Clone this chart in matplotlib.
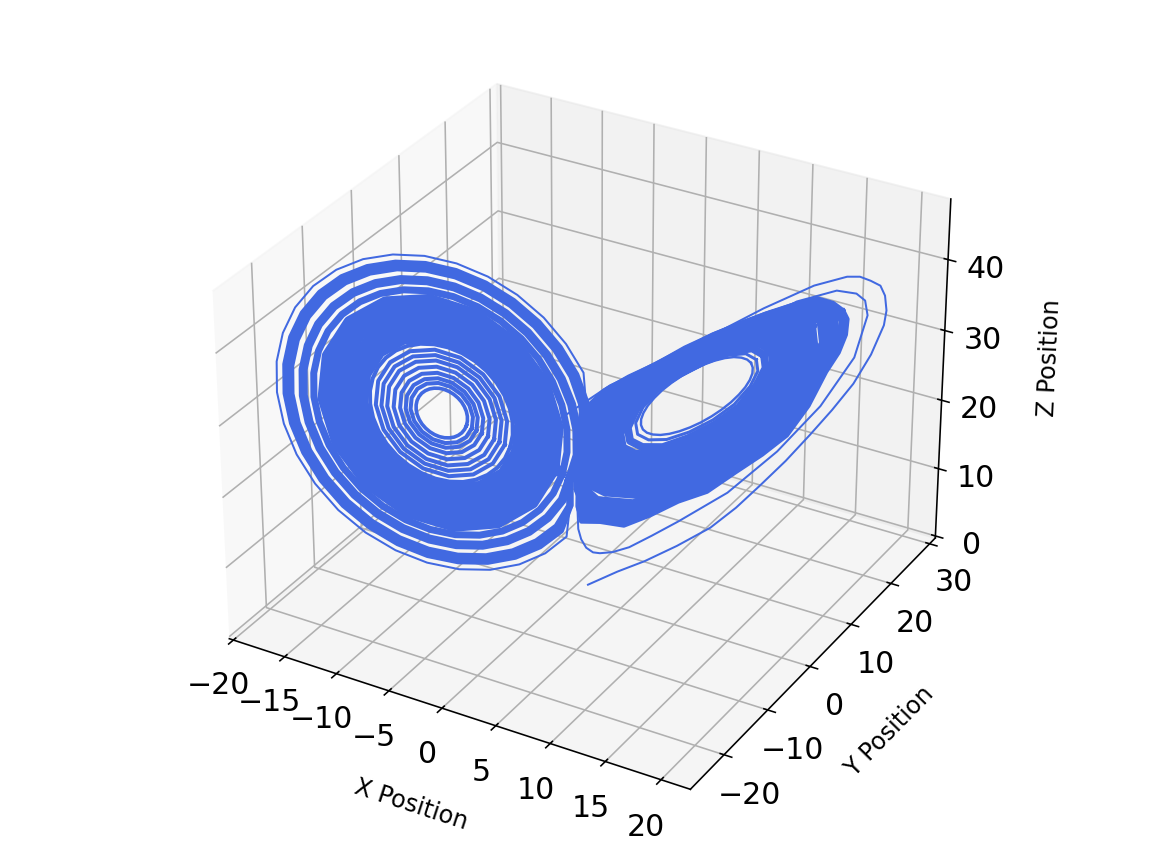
import matplotlib
matplotlib.use('Agg')
import matplotlib.pyplot as plt

left_x = [
    [-6.6, -6.63, -6.72, -6.87, -7.07, -7.31, -7.59, -7.89, -8.2, -8.51, -8.81, -9.09, -9.33, -9.53, -9.68, -9.77, -9.8, -9.77, -9.68, -9.53, -9.33, -9.09, -8.81, -8.51, -8.2, -7.89, -7.59, -7.31, -7.07, -6.87, -6.72, -6.63],
    [-6.25, -6.4, -6.82, -7.45, -8.2, -8.95, -9.58, -10, -10.15, -10, -9.58, -8.95, -8.2, -7.45, -6.82, -6.4],
    [-5.95, -6.12, -6.61, -7.34, -8.2, -9.06, -9.79, -10.28, -10.45, -10.28, -9.79, -9.06, -8.2, -7.34, -6.61, -6.12],
    [-5.6, -5.8, -6.36, -7.2, -8.2, -9.2, -10.04, -10.6, -10.8, -10.6, -10.04, -9.2, -8.2, -7.2, -6.36, -5.8],
    [-5.2, -5.43, -6.08, -7.05, -8.2, -9.35, -10.32, -10.97, -11.2, -10.97, -10.32, -9.35, -8.2, -7.05, -6.08, -5.43],
    [-4.8, -5.06, -5.8, -6.9, -8.2, -9.5, -10.6, -11.34, -11.6, -11.34, -10.6, -9.5, -8.2, -6.9, -5.8, -5.06],
    [-4.45, -4.73, -5.55, -6.76, -8.2, -9.64, -10.85, -11.67, -11.95, -11.67, -10.85, -9.64, -8.2, -6.76, -5.55, -4.73],
    [-4.1, -4.41, -5.3, -6.63, -8.2, -9.77, -11.1, -11.99, -12.3, -11.99, -11.1, -9.77, -8.2, -6.63, -5.3, -4.41],
    [-3.75, -3.83, -4.09, -4.5, -5.05, -5.73, -6.5, -7.33, -8.2, -9.07, -9.9, -10.67, -11.35, -11.9, -12.31, -12.57, -12.65, -12.57, -12.31, -11.9, -11.35, -10.67, -9.9, -9.07, -8.2, -7.33, -6.5, -5.73, -5.05, -4.5, -4.09, -3.83],
    [-3.2, -3.58, -4.66, -6.28, -8.2, -10.12, -11.74, -12.82, -13.2, -12.82, -11.74, -10.12, -8.2, -6.28, -4.66, -3.58],
    [-2.45, -2.89, -4.13, -6, -8.2, -10.4, -12.27, -13.51, -13.95, -13.51, -12.27, -10.4, -8.2, -6, -4.13, -2.89],
    [-1.7, -2.19, -3.6, -5.71, -8.2, -10.69, -12.8, -14.21, -14.7, -14.21, -12.8, -10.69, -8.2, -5.71, -3.6, -2.19],
    [-.95, -1.5, -3.07, -5.42, -8.2, -10.98, -13.33, -14.9, -15.45, -14.9, -13.33, -10.98, -8.2, -5.42, -3.07, -1.5],
    [-.3, -.45, -.9, -1.64, -2.61, -3.81, -5.17, -6.66, -8.2, -9.74, -11.23, -12.59, -13.79, -14.76, -15.5, -15.95, -16.1, -15.95, -15.5, -14.76, -13.79, -12.59, -11.23, -9.74, -8.2, -6.66, -5.17, -3.81, -2.61, -1.64, -.9, -.45],
    [.2, .19, -.3, -1.1, -2.16, -3.45, -4.93, -6.53, -8.2, -9.87, -11.47, -12.95, -14.24, -15.3, -16.1, -16.59, -16.75, -16.59, -16.1, -15.3, -14.24, -12.95, -11.47, -9.87, -8.2, -6.53, -4.93, -3.45, -2.16, -1.1, -.3, .19],
    [.2, .73, .39, -.47, -1.62, -3.03, -4.64, -6.39, -8.2, -10.01, -11.76, -13.37, -14.78, -15.93, -16.79, -17.32, -17.5, -17.32, -16.79, -15.93, -14.78, -13.37, -11.76, -10.01, -8.2, -6.39, -4.64, -3.03, -1.62, -.55, .1, .33],
    [.2, .73, .67, -.22, -1.41, -2.86, -4.52, -6.33, -8.2, -10.07, -11.88, -13.54, -14.99, -16.18, -17.07, -17.62, -17.8, -17.62, -17.07, -16.18, -14.99, -13.54, -11.88, -10.07, -8.2, -6.33, -4.52, -2.86, -1.41, -.3, .1, .33],
    [.2, .73, 1.1, .23, -1.02, -2.56, -4.31, -6.22, -8.2, -10.18, -12.09, -13.84, -15.38, -16.63, -17.58, -18.16, -18.35, -18.16, -17.58, -16.63, -15.38, -13.84, -12.09, -10.18, -8.2, -6.22, -4.31, -2.56, -1.02, -.3, .1, .33],
]
left_y = [
    [-6.9, -7.24, -7.63, -8.06, -8.5, -8.94, -9.37, -9.76, -10.1, -10.38, -10.59, -10.72, -10.76, -10.72, -10.59, -10.38, -10.1, -9.76, -9.37, -8.94, -8.5, -8.06, -7.63, -7.24, -6.9, -6.62, -6.41, -6.28, -6.24, -6.28, -6.41, -6.62],
    [-6.55, -7.45, -8.5, -9.55, -10.45, -11.05, -11.26, -11.05, -10.45, -9.55, -8.5, -7.45, -6.55, -5.95, -5.74, -5.95],
    [-6.25, -7.28, -8.5, -9.72, -10.75, -11.44, -11.68, -11.44, -10.75, -9.72, -8.5, -7.28, -6.25, -5.56, -5.32, -5.56],
    [-5.9, -7.09, -8.5, -9.91, -11.1, -11.9, -12.18, -11.9, -11.1, -9.91, -8.5, -7.09, -5.9, -5.1, -4.82, -5.1],
    [-5.5, -6.88, -8.5, -10.12, -11.5, -12.42, -12.74, -12.42, -11.5, -10.12, -8.5, -6.88, -5.5, -4.58, -4.26, -4.58],
    [-5.1, -6.66, -8.5, -10.34, -11.9, -12.94, -13.31, -12.94, -11.9, -10.34, -8.5, -6.66, -5.1, -4.06, -3.69, -4.06],
    [-4.75, -6.47, -8.5, -10.53, -12.25, -13.4, -13.8, -13.4, -12.25, -10.53, -8.5, -6.47, -4.75, -3.6, -3.2, -3.6],
    [-4.4, -6.28, -8.5, -10.72, -12.6, -13.86, -14.3, -13.86, -12.6, -10.72, -8.5, -6.28, -4.4, -3.14, -2.7, -3.14],
    [-4.05, -5, -6.09, -7.28, -8.5, -9.72, -10.91, -12, -12.95, -13.73, -14.32, -14.67, -14.79, -14.67, -14.32, -13.73, -12.95, -12, -10.91, -9.72, -8.5, -7.28, -6.09, -5, -4.05, -3.27, -2.68, -2.33, -2.21, -2.33, -2.68, -3.27],
    [-3.5, -5.79, -8.5, -11.21, -13.5, -15.04, -15.57, -15.04, -13.5, -11.21, -8.5, -5.79, -3.5, -1.96, -1.43, -1.96],
    [-2.75, -5.39, -8.5, -11.61, -14.25, -16.02, -16.63, -16.02, -14.25, -11.61, -8.5, -5.39, -2.75, -.98, -.37, -.98],
    [-2, -4.98, -8.5, -12.02, -15, -17, -17.69, -17, -15, -12.02, -8.5, -4.98, -2, 0, .69, 0],
    [-1.25, -4.58, -8.5, -12.42, -15.75, -17.98, -18.75, -17.98, -15.75, -12.42, -8.5, -4.58, -1.25, .98, 1.75, .98],
    [-.6, -2.29, -4.23, -6.33, -8.5, -10.67, -12.77, -14.71, -16.4, -17.79, -18.83, -19.46, -19.67, -19.46, -18.83, -17.79, -16.4, -14.71, -12.77, -10.67, -8.5, -6.33, -4.23, -2.29, -.6, .79, 1.83, 2.46, 2.67, 2.46, 1.83, .79],
    [-.1, -1.78, -3.87, -6.15, -8.5, -10.85, -13.13, -15.22, -17.05, -18.55, -19.67, -20.36, -20.59, -20.36, -19.67, -18.55, -17.05, -15.22, -13.13, -10.85, -8.5, -6.15, -3.87, -1.78, .05, 1.55, 2.67, 3.36, 3.59, 3.36, 2.67, 1.55],
    [-.1, -1.35, -3.47, -5.94, -8.5, -11.06, -13.53, -15.81, -17.8, -19.44, -20.66, -21.4, -21.65, -21.4, -20.66, -19.44, -17.8, -15.81, -13.53, -11.06, -8.5, -5.94, -3.47, -1.19, .8, 2.44, 3.66, 4.4, 4.65, 4.26, 3.3, 1.73],
    [-.1, -1.35, -3.31, -5.86, -8.5, -11.14, -13.69, -16.05, -18.1, -19.79, -21.05, -21.82, -22.07, -21.82, -21.05, -19.79, -18.1, -16.05, -13.69, -11.14, -8.5, -5.86, -3.31, -.95, 1.1, 2.79, 4.05, 4.82, 5.07, 4.68, 3.3, 1.73],
    [-.1, -1.35, -3, -5.71, -8.5, -11.29, -13.99, -16.48, -18.65, -20.44, -21.77, -22.58, -22.85, -22.58, -21.77, -20.44, -18.65, -16.48, -13.99, -11.29, -8.5, -5.71, -3, -.52, 1.65, 3.44, 4.77, 5.58, 5.85, 4.68, 3.3, 1.73],
]
left_z = [
    [24.76, 24.38, 24.08, 23.89, 23.8, 23.83, 23.96, 24.2, 24.54, 24.96, 25.45, 25.98, 26.54, 27.11, 27.66, 28.18, 28.64, 29.02, 29.32, 29.51, 29.6, 29.57, 29.44, 29.2, 28.86, 28.44, 27.95, 27.42, 26.86, 26.29, 25.74, 25.22],
    [24.34, 23.51, 23.17, 23.37, 24.07, 25.17, 26.51, 27.87, 29.06, 29.89, 30.23, 30.03, 29.33, 28.23, 26.89, 25.53],
    [23.98, 23.02, 22.63, 22.85, 23.66, 24.94, 26.48, 28.05, 29.42, 30.38, 30.77, 30.55, 29.74, 28.46, 26.92, 25.35],
    [23.55, 22.45, 21.99, 22.25, 23.19, 24.66, 26.44, 28.26, 29.85, 30.95, 31.41, 31.15, 30.21, 28.74, 26.96, 25.14],
    [23.07, 21.79, 21.27, 21.57, 22.65, 24.35, 26.4, 28.5, 30.33, 31.61, 32.13, 31.83, 30.75, 29.05, 27, 24.9],
    [22.59, 21.14, 20.55, 20.89, 22.11, 24.03, 26.36, 28.74, 30.81, 32.26, 32.85, 32.51, 31.29, 29.37, 27.04, 24.66],
    [22.16, 20.57, 19.91, 20.29, 21.64, 23.76, 26.33, 28.95, 31.24, 32.83, 33.49, 33.11, 31.76, 29.64, 27.07, 24.45],
    [21.74, 20, 19.28, 19.69, 21.16, 23.49, 26.29, 29.16, 31.66, 33.4, 34.12, 33.71, 32.24, 29.91, 27.11, 24.24],
    [21.32, 20.25, 19.42, 18.88, 18.65, 18.71, 19.09, 19.76, 20.69, 21.86, 23.21, 24.7, 26.26, 27.83, 29.37, 30.81, 32.08, 33.15, 33.98, 34.52, 34.75, 34.69, 34.31, 33.64, 32.71, 31.54, 30.19, 28.7, 27.14, 25.57, 24.03, 22.59],
    [20.65, 18.52, 17.65, 18.15, 19.95, 22.78, 26.2, 29.7, 32.75, 34.88, 35.75, 35.25, 33.45, 30.62, 27.2, 23.7],
    [19.74, 17.3, 16.29, 16.87, 18.94, 22.19, 26.13, 30.16, 33.66, 36.1, 37.11, 36.53, 34.46, 31.21, 27.27, 23.24],
    [18.83, 16.07, 14.93, 15.58, 17.92, 21.6, 26.06, 30.61, 34.57, 37.33, 38.47, 37.82, 35.48, 31.8, 27.34, 22.79],
    [17.93, 14.85, 13.58, 14.3, 16.91, 21.02, 25.98, 31.06, 35.47, 38.55, 39.82, 39.1, 36.49, 32.38, 27.42, 22.34],
    [17.14, 15.24, 13.78, 12.82, 12.4, 12.52, 13.19, 14.38, 16.03, 18.1, 20.51, 23.15, 25.92, 28.71, 31.45, 34, 36.26, 38.16, 39.62, 40.58, 41, 40.88, 40.21, 39.02, 37.37, 35.3, 32.89, 30.25, 27.48, 24.69, 21.95, 19.4],
    [16.5, 14.3, 12.72, 11.68, 11.22, 11.35, 12.08, 13.36, 15.16, 17.4, 20, 22.86, 25.85, 28.88, 31.84, 34.6, 37.05, 39.1, 40.68, 41.72, 42.18, 42.05, 41.32, 40.04, 38.24, 36, 33.4, 30.54, 27.55, 24.52, 21.56, 18.8],
    [16.5, 13.5, 11.49, 10.36, 9.87, 10.01, 10.8, 12.19, 14.14, 16.58, 19.41, 22.52, 25.78, 29.07, 32.29, 35.29, 37.95, 40.19, 41.91, 43.04, 43.53, 43.39, 42.6, 41.21, 39.26, 36.82, 33.99, 30.88, 27.62, 24.35, 22, 18.66],
    [16.5, 13.5, 11, 9.83, 9.32, 9.47, 10.28, 11.72, 13.74, 16.26, 19.17, 22.39, 25.75, 29.15, 32.47, 35.57, 38.32, 40.62, 42.4, 43.57, 44.08, 43.93, 43.12, 41.68, 39.66, 37.14, 34.23, 31.01, 27.65, 24.4, 22, 18.66],
    [16.5, 13.5, 10.1, 8.87, 8.33, 8.48, 9.34, 10.87, 13, 15.66, 18.74, 22.14, 25.7, 29.29, 32.8, 36.08, 38.98, 41.42, 43.3, 44.53, 45.07, 44.92, 44.06, 42.53, 40.4, 37.74, 34.66, 31.26, 27.7, 24.4, 22, 18.66],
]
left_lw = [1.8, 2, 2, 2, 2, 2, 2, 2, 2, 7, 7, 7, 7, 3.5, 4.5, 3.5, 3.5, 1]

# right wing loops, same order
right_x = [
    [12.05, 11.98, 11.78, 11.45, 11.01, 10.47, 9.86, 9.19, 8.5, 7.81, 7.14, 6.53, 5.99, 5.55, 5.22, 5.02, 4.95, 5.02, 5.22, 5.55, 5.99, 6.53, 7.14, 7.81, 8.5, 9.19, 9.86, 10.47, 11.01, 11.45, 11.78, 11.98],
    [12.4, 12.1, 11.26, 9.99, 8.5, 7.01, 5.74, 4.9, 4.6, 4.9, 5.74, 7.01, 8.5, 9.99, 11.26, 12.1],
    [12.9, 12.57, 11.61, 10.19, 8.5, 6.81, 5.39, 4.43, 4.1, 4.43, 5.39, 6.81, 8.5, 10.19, 11.61, 12.57],
    [13.5, 13.12, 12.04, 10.42, 8.5, 6.58, 4.96, 3.88, 3.5, 3.88, 4.96, 6.58, 8.5, 10.42, 12.04, 13.12],
    [14.1, 13.67, 12.46, 10.64, 8.5, 6.36, 4.54, 3.33, 2.9, 3.33, 4.54, 6.36, 8.5, 10.64, 12.46, 13.67],
    [14.7, 14.23, 12.88, 10.87, 8.5, 6.13, 4.12, 2.77, 2.3, 2.77, 4.12, 6.13, 8.5, 10.87, 12.88, 14.23],
    [15.3, 14.78, 13.31, 11.1, 8.5, 5.9, 3.69, 2.22, 1.7, 2.22, 3.69, 5.9, 8.5, 11.1, 13.31, 14.78],
    [15.9, 15.34, 13.73, 11.33, 8.5, 5.67, 3.27, 1.66, 1.1, 1.66, 3.27, 5.67, 8.5, 11.33, 13.73, 15.34],
    [16.7, 16.08, 14.3, 11.64, 8.5, 5.36, 2.7, 1.57, .75, .92, 2.7, 5.36, 8.5, 11.64, 14.3, 16.08],
    [17.3, 16.63, 14.72, 11.87, 8.5, 5.13, 2.49, 1.57, .75, .37, 2.28, 5.13, 8.5, 11.87, 14.72, 16.63],
    [17.75, 17.57, 17.05, 16.19, 15.04, 13.64, 12.04, 10.3, 8.5, 6.7, 4.96, 3.36, 2.49, 2.1, 1.57, 1.1, .75, .2, -.05, .81, 1.96, 3.36, 4.96, 6.7, 8.5, 10.3, 12.04, 13.64, 15.04, 16.19, 17.05, 17.57],
    [18.05, 17.87, 17.32, 16.44, 15.25, 13.81, 12.16, 10.36, 8.5, 6.64, 4.84, 3.19, 2.49, 2.1, 1.57, 1.1, .75, .1, -.2, .56, 1.75, 3.19, 4.84, 6.64, 8.5, 10.36, 12.16, 13.81, 15.25, 16.44, 17.32, 17.87],
]
right_y = [
    [12.05, 11.29, 10.42, 9.48, 8.5, 7.52, 6.58, 5.71, 4.95, 4.33, 3.86, 3.58, 3.48, 3.58, 3.86, 4.33, 4.95, 5.71, 6.58, 7.52, 8.5, 9.48, 10.42, 11.29, 12.05, 12.67, 13.14, 13.42, 13.52, 13.42, 13.14, 12.67],
    [12.4, 10.61, 8.5, 6.39, 4.6, 3.4, 2.99, 3.4, 4.6, 6.39, 8.5, 10.61, 12.4, 13.6, 14.01, 13.6],
    [12.9, 10.88, 8.5, 6.12, 4.1, 2.75, 2.28, 2.75, 4.1, 6.12, 8.5, 10.88, 12.9, 14.25, 14.72, 14.25],
    [13.5, 11.21, 8.5, 5.79, 3.5, 1.96, 1.43, 1.96, 3.5, 5.79, 8.5, 11.21, 13.5, 15.04, 15.57, 15.04],
    [14.1, 11.53, 8.5, 5.47, 2.9, 1.18, .58, 1.18, 2.9, 5.47, 8.5, 11.53, 14.1, 15.82, 16.42, 15.82],
    [14.7, 11.85, 8.5, 5.15, 2.3, .4, -.27, .4, 2.3, 5.15, 8.5, 11.85, 14.7, 16.6, 17.27, 16.6],
    [15.3, 12.18, 8.5, 4.82, 1.7, -.39, -1.12, -.39, 1.7, 4.82, 8.5, 12.18, 15.3, 17.39, 18.12, 17.39],
    [15.9, 12.5, 8.5, 4.5, 1.1, -1.17, -1.96, -1.17, 1.1, 4.5, 8.5, 12.5, 15.9, 18.17, 18.96, 18.17],
    [16.7, 12.94, 8.5, 4.06, .3, -2.22, -3.09, -1.3, .75, 4.06, 8.5, 12.94, 16.7, 19.22, 20.09, 19.22],
    [17.3, 13.26, 8.5, 3.74, -.3, -3, -3.52, -1.3, .75, 3.74, 8.5, 13.26, 17.3, 20, 20.94, 20],
    [17.75, 15.77, 13.5, 11.04, 8.5, 5.96, 3.5, 1.23, -.75, -2.38, -3.59, -4.33, -3.52, -2.5, -1.3, -.3, .75, 2, 3.5, 5.96, 8.5, 11.04, 13.5, 15.77, 17.75, 19.38, 20.59, 21.33, 21.58, 21.33, 20.59, 19.38],
    [18.05, 16.01, 13.67, 11.13, 8.5, 5.87, 3.33, .99, -1.05, -2.73, -3.98, -4.75, -3.52, -2.5, -1.3, -.3, .75, 2, 3.33, 5.87, 8.5, 11.13, 13.67, 16.01, 18.05, 19.73, 20.98, 21.75, 22, 21.75, 20.98, 19.73],
]
right_z = [
    [31.3, 32.15, 32.8, 33.24, 33.43, 33.37, 33.07, 32.54, 31.79, 30.86, 29.78, 28.59, 27.35, 26.09, 24.87, 23.72, 22.7, 21.85, 21.2, 20.76, 20.57, 20.63, 20.93, 21.46, 22.21, 23.14, 24.22, 25.41, 26.65, 27.91, 29.13, 30.28],
    [31.72, 33.38, 33.93, 33.45, 32.05, 29.95, 27.28, 24.48, 22.06, 20.4, 19.65, 20.11, 21.51, 23.72, 26.61, 29.34],
    [32.32, 34.19, 34.66, 34.02, 32.44, 30.2, 27.19, 23.96, 21.18, 19.31, 18.39, 18.98, 20.56, 23.05, 26.56, 29.64],
    [33.05, 35.18, 35.55, 34.71, 32.91, 30.5, 27.08, 23.33, 20.11, 17.98, 16.86, 17.61, 19.41, 22.24, 26.5, 30],
    [33.78, 36.16, 36.43, 35.4, 33.38, 30.8, 26.96, 22.69, 19.04, 16.66, 15.33, 16.24, 18.26, 21.43, 26.45, 30.37],
    [34.5, 37.14, 37.31, 36.09, 33.86, 31.1, 26.85, 22.06, 17.99, 15.35, 13.82, 14.89, 17.12, 20.63, 26.39, 30.73],
    [35.23, 38.12, 38.2, 36.78, 34.33, 31.4, 26.74, 21.43, 16.92, 14.03, 12.28, 13.52, 15.97, 19.82, 26.33, 31.09],
    [35.95, 39.1, 39.08, 37.47, 34.81, 31.71, 26.64, 20.81, 15.87, 12.72, 10.78, 12.17, 14.83, 19.02, 26.27, 31.45],
    [36.92, 39.7, 39.9, 38.39, 35.44, 32.11, 26.49, 20.39, 14.99, 10.96, 8.74, 10.35, 13.3, 17.94, 26.19, 31.93],
    [37.65, 40.5, 40.6, 39.08, 35.91, 32.41, 26.36, 20.11, 14.65, 9.64, 7.21, 8.98, 12.15, 17.13, 26.13, 32.29],
    [37.7, 39.6, 41.1, 41.4, 41.2, 40.6, 39.6, 38.21, 36.27, 34.64, 32.64, 29.54, 26.2, 23.2, 19.95, 17, 14.4, 11.2, 8.66, 7.53, 6.07, 6.7, 7.96, 8.87, 11.29, 13.72, 16.53, 20.95, 26.08, 29.36, 32.56, 35.55],
    [38, 40, 41.6, 41.9, 41.6, 41, 39.94, 38.51, 36.5, 34.85, 32.79, 29.59, 26.1, 23.2, 19.8, 16.9, 14.2, 10.8, 8, 6.83, 5.3, 5.96, 7.28, 8.2, 10.72, 13.22, 16.12, 20.7, 26.05, 29.44, 32.74, 35.82],
]
right_lw = [1.2, 1.5, 4, 6, 6, 6, 6, 6, 6, 6, 4, 2]

# the two thin strands outside the right wing
start_x = [1.25, 3.15, 4.92, 7, 9.15, 10.79, 12.3, 13.94, 15.46, 16.85, 18.17, 19.24, 20, 20.13, 20, 19.68, 19.05, 18.36, 17.54, 15.46, 12.3, 8.71, 5.99, 2.65, -.32]
start_y = [1.45, 3.63, 5.66, 8.05, 10.52, 12.41, 14.15, 16.03, 17.78, 19.37, 20.9, 22.13, 23, 23.15, 23, 22.64, 21.91, 21.11, 20.17, 17.78, 14.15, 10.01, 6.89, 3.05, -.36]
start_z = [.5, 2.03, 3.21, 5.02, 7.24, 9.82, 12.71, 15.98, 19.42, 22.73, 26.22, 30.14, 34.13, 36.17, 38.26, 39.7, 40.5, 41.19, 41.34, 40.49, 37.92, 34.46, 31.8, 29, 25.13]

second_x = [.5, .5, .57, .63, .82, 1.14, 1.58, 2.02, 2.84, 3.91, 5.36, 7.07, 10.22, 13.38, 16.09, 18.17, 18.93, 18.74, 18.17, 16.91, 14.39, 11.23, 8.08, 2.65]
second_y = [.58, .58, .65, .73, .94, 1.31, 1.81, 2.32, 3.26, 4.5, 6.17, 8.13, 11.75, 15.38, 18.5, 20.9, 21.77, 21.55, 20.9, 19.45, 16.54, 12.91, 9.29, 3.05]
second_z = [20.84, 16.71, 12.57, 8.83, 7.28, 5.98, 5.21, 4.99, 4.98, 5.47, 6.85, 8.59, 12.13, 17.47, 23.43, 29.93, 35.71, 37.81, 38.88, 39.53, 38.49, 35.36, 32.23, 28.43]

line_color = 'royalblue'

fig = plt.figure(figsize=(8, 6), dpi=144)
ax = fig.add_axes([0.0235, 0.0265, 0.956, 0.95], projection='3d')

for xs, ys, zs, lw in zip(left_x, left_y, left_z, left_lw):
    ax.plot(xs + xs[:1], ys + ys[:1], zs + zs[:1], color=line_color, lw=lw)
for xs, ys, zs, lw in zip(right_x, right_y, right_z, right_lw):
    ax.plot(xs + xs[:1], ys + ys[:1], zs + zs[:1], color=line_color, lw=lw)
ax.plot(start_x, start_y, start_z, color=line_color, lw=1)
ax.plot(second_x, second_y, second_z, color=line_color, lw=1)

ax.set_xlim(-20.4, 22.6)
ax.set_ylim(-27.5, 31.5)
ax.set_zlim(-.3, 48.4)
ax.tick_params(labelsize=15)
ax.set_xlabel('X Position', fontsize=12, labelpad=12)
ax.set_ylabel('Y Position', fontsize=12, labelpad=12)
ax.set_zlabel('Z Position', fontsize=12, labelpad=12)

fig.savefig('out.png')
